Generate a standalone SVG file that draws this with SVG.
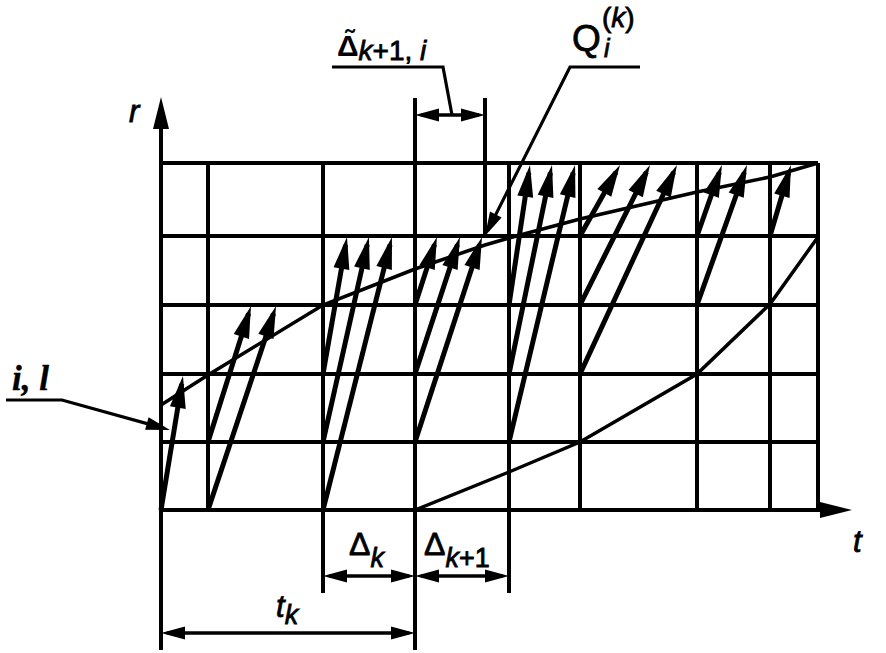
<svg xmlns="http://www.w3.org/2000/svg" width="886" height="653" viewBox="0 0 886 653">
<defs>
<marker id="vh" markerUnits="userSpaceOnUse" markerWidth="40" markerHeight="20" refX="0" refY="0" orient="auto" style="overflow:visible"><path d="M8,0 L-24,-8 L-24,8 Z" fill="#000"/></marker>
<marker id="dh" markerUnits="userSpaceOnUse" markerWidth="30" markerHeight="14" refX="0" refY="0" orient="auto-start-reverse" style="overflow:visible"><path d="M6,0 L-18,-6.5 L-18,6.5 Z" fill="#000"/></marker>
</defs>
<style>
.g{stroke:#000;stroke-width:4;fill:none}
.v{stroke:#000;stroke-width:5;fill:none;marker-end:url(#vh)}
.c{stroke:#000;stroke-width:3.5;fill:none}
.l{stroke:#000;stroke-width:3.2;fill:none}
.d{stroke:#000;stroke-width:3.5;fill:none;marker-start:url(#dh);marker-end:url(#dh)}
text{font-family:"Liberation Sans",Arial,sans-serif;fill:#000;stroke:#000;stroke-width:0.8}
.it{font-style:italic}
</style>
<rect width="886" height="653" fill="#fff"/>
<g id="grid">
<path class="g" d="M161,163H818M161,236H818M161,305H818M161,374H818M161,442H818"/>
<path class="g" d="M208,163V510M323,163V593M509,163V593M580,163V510M697,163V510M770,163V510M818,163V510M415,98V650M485,98V236"/>
</g>
<g id="axes">
<path class="g" d="M161,650V105" marker-end="url(#vh)"/>
<path class="g" d="M161,510H844" marker-end="url(#vh)"/>
<text class="it" x="129" y="122" font-size="31">r</text>
<text class="it" x="853" y="552" font-size="31">t</text>
</g>
<g id="curves">
<polyline class="c" points="161,405 208,375 323,305 415,269 485,245 509,238 580,219 697,192 770,177 818,163"/>
<polyline class="c" points="415,510 509,472 580,442 697,374 770,304 818,237"/>
</g>
<g id="vectors">
<path class="v" d="M161,510L181.7,383.9"/>
<path class="v" d="M208,442L248.6,313.6"/>
<path class="v" d="M208,510L273.5,313.6"/>
<path class="v" d="M323,374L345.6,244.9"/>
<path class="v" d="M323,442L367.2,244.8"/>
<path class="v" d="M323,510L390,244.8"/>
<path class="v" d="M415,305L434.5,244.6"/>
<path class="v" d="M415,374L457.5,244.6"/>
<path class="v" d="M415,442L479.5,244.6"/>
<path class="v" d="M509,305L528.8,172.9"/>
<path class="v" d="M509,374L550.4,172.8"/>
<path class="v" d="M509,442L573.2,172.8"/>
<path class="v" d="M580,236L616.1,172"/>
<path class="v" d="M580,305L646.4,172.2"/>
<path class="v" d="M580,374L673.6,172.3"/>
<path class="v" d="M697,236L719.3,172.5"/>
<path class="v" d="M697,305L744.3,172.5"/>
<path class="v" d="M770,236L788.7,172.7"/>
</g>
<g id="dimensions">
<path class="d" d="M421,115H479"/>
<path class="d" d="M329,576H409"/>
<path class="d" d="M421,576H503"/>
<path class="d" d="M167,633H409"/>
</g>
<g id="leaders">
<path class="l" d="M332,67H443L452,115"/>
<path class="l" d="M640,67H570L487.7,230.6" marker-end="url(#dh)"/>
<path class="l" d="M6,400H62L164.2,428.4" marker-end="url(#dh)"/>
</g>
<g id="labels">
<text x="337" y="56" font-size="31"><tspan font-weight="bold" stroke-width="0" font-size="30">Δ̃</tspan><tspan class="it" font-size="28" dy="4">k</tspan><tspan font-size="28">+1, </tspan><tspan class="it" font-size="28">i</tspan></text>
<text x="572" y="51" font-size="37">Q</text>
<text x="602" y="27" font-size="28">(<tspan class="it">k</tspan>)</text>
<text class="it" x="604" y="57" font-size="25">i</text>
<text x="12" y="390" font-size="35" style="font-family:'Liberation Serif','Times New Roman',serif;font-style:italic;font-weight:bold;stroke-width:0.4">i,  l</text>
<text x="349" y="555" font-size="32">Δ<tspan class="it" font-size="27" dy="12">k</tspan></text>
<text x="424" y="555" font-size="32">Δ<tspan class="it" font-size="27" dy="12">k</tspan><tspan font-size="27">+1</tspan></text>
<text class="it" x="276" y="617" font-size="31">t<tspan font-size="27" dy="7">k</tspan></text>
</g>
</svg>
